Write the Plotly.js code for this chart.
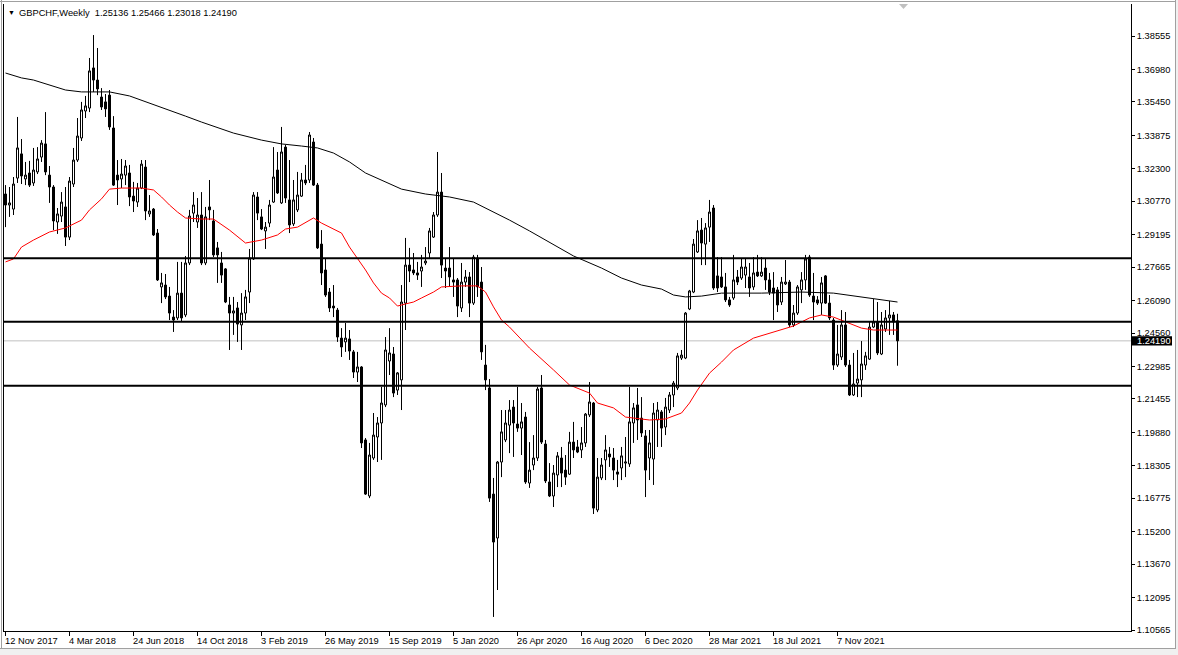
<!DOCTYPE html>
<html><head><meta charset="utf-8">
<script src="https://cdn.plot.ly/plotly-3.0.1.min.js"></script>
<style>html,body{margin:0;padding:0;background:#fff;overflow:hidden}#chart{width:1178px;height:655px}</style>
</head><body><div id="chart"></div>
<script>
const openP = [1.3111,1.3059,1.3040,1.3186,1.3300,1.3182,1.3210,1.3163,1.3215,1.3285,1.3347,1.3200,1.3144,1.2979,1.3007,1.3050,1.2908,1.3158,1.3271,1.3375,1.3502,1.3516,1.3705,1.3648,1.3568,1.3545,1.3577,1.3422,1.3200,1.3182,1.3200,1.3210,1.3101,1.3073,1.3139,1.3238,1.3017,1.3040,1.2927,1.2673,1.2682,1.2630,1.2531,1.2527,1.2644,1.2541,1.2786,1.3021,1.2979,1.3012,1.2786,1.3050,1.2984,1.2857,1.2786,1.2758,1.2588,1.2550,1.2574,1.2494,1.2550,1.2649,1.2805,1.3097,1.3003,1.2937,1.2974,1.3073,1.3224,1.3069,1.3332,1.3083,1.2970,1.3036,1.3101,1.3177,1.3177,1.3356,1.3153,1.2875,1.2753,1.2649,1.2583,1.2564,1.2432,1.2414,1.2428,1.2367,1.2272,1.2296,1.1952,1.1688,1.1867,1.1966,1.2032,1.2117,1.2324,1.2357,1.2187,1.2235,1.2597,1.2776,1.2753,1.2739,1.2748,1.2786,1.2833,1.2908,1.3012,1.3120,1.2762,1.2762,1.2706,1.2706,1.2574,1.2696,1.2720,1.2597,1.2809,1.2696,1.2305,1.2197,1.1697,1.1490,1.1848,1.1952,1.2022,1.2107,1.2027,1.2008,1.2060,1.1749,1.1834,1.1867,1.2197,1.1933,1.1754,1.1688,1.1787,1.1867,1.1810,1.1791,1.1942,1.1919,1.1905,1.1938,1.2070,1.2126,1.1622,1.1773,1.1858,1.1886,1.1867,1.1801,1.1820,1.1843,1.1839,1.2032,1.2117,1.2055,1.1971,1.1867,1.1862,1.2046,1.2084,1.2013,1.2093,1.2164,1.2197,1.2338,1.2338,1.2569,1.2649,1.2838,1.2941,1.2875,1.2955,1.3045,1.2725,1.2720,1.2673,1.2612,1.2621,1.2720,1.2715,1.2729,1.2720,1.2673,1.2743,1.2725,1.2762,1.2706,1.2668,1.2659,1.2602,1.2687,1.2696,1.2494,1.2550,1.2659,1.2706,1.2814,1.2630,1.2612,1.2597,1.2725,1.2597,1.2517,1.2305,1.2343,1.2494,1.2305,1.2164,1.2220,1.2235,1.2305,1.2333,1.2484,1.2508,1.2357,1.2475,1.2527,1.2541,1.25136];
const highP = [1.3153,1.3144,1.3191,1.3474,1.3370,1.3262,1.3267,1.3328,1.3332,1.3365,1.3497,1.3243,1.3153,1.3045,1.3120,1.3144,1.3191,1.3328,1.3469,1.3545,1.3573,1.3752,1.3860,1.3799,1.3610,1.3582,1.3601,1.3478,1.3271,1.3276,1.3271,1.3248,1.3168,1.3163,1.3271,1.3271,1.3106,1.3045,1.2946,1.2739,1.2734,1.2673,1.2564,1.2791,1.2791,1.2819,1.3036,1.3120,1.3092,1.3120,1.3050,1.3177,1.3036,1.2885,1.2838,1.2762,1.2626,1.2626,1.2602,1.2644,1.2659,1.2852,1.3120,1.3120,1.3040,1.2979,1.3083,1.3332,1.3309,1.3427,1.3342,1.3271,1.3177,1.3215,1.3210,1.3248,1.3403,1.3375,1.3163,1.2941,1.2809,1.2668,1.2682,1.2574,1.2479,1.2503,1.2470,1.2376,1.2367,1.2300,1.1961,1.1938,1.2079,1.2060,1.2202,1.2437,1.2479,1.2390,1.2272,1.2682,1.2904,1.2857,1.2833,1.2791,1.2824,1.2861,1.2951,1.3026,1.3309,1.3210,1.2809,1.2861,1.2809,1.2715,1.2786,1.2753,1.2743,1.2824,1.2824,1.2767,1.2400,1.2239,1.1773,1.1853,1.2093,1.2093,1.2140,1.2140,1.2202,1.2126,1.2084,1.1942,1.1975,1.2202,1.2258,1.1952,1.1843,1.1834,1.1895,1.1919,1.1881,1.1990,1.2037,1.1952,1.2013,1.2079,1.2225,1.2131,1.1867,1.1867,1.1975,1.1919,1.1914,1.1858,1.1919,1.1966,1.2202,1.2126,1.2197,1.2154,1.1999,1.1999,1.2126,1.2131,1.2093,1.2150,1.2178,1.2230,1.2362,1.2376,1.2555,1.2659,1.2899,1.2988,1.2998,1.2974,1.3083,1.3059,1.2814,1.2814,1.2739,1.2626,1.2824,1.2753,1.2809,1.2809,1.2786,1.2814,1.2824,1.2814,1.2809,1.2739,1.2743,1.2673,1.2720,1.2800,1.2706,1.2588,1.2682,1.2743,1.2824,1.2824,1.2739,1.2630,1.2720,1.2729,1.2635,1.2527,1.2494,1.2564,1.2555,1.2329,1.2362,1.2376,1.2418,1.2367,1.2508,1.2616,1.2602,1.2555,1.2564,1.2607,1.2555,1.25466];
const lowP = [1.2955,1.3003,1.3012,1.3163,1.3158,1.3153,1.3144,1.3149,1.3205,1.3262,1.3200,1.3069,1.2941,1.2923,1.2979,1.2866,1.2894,1.3144,1.3262,1.3361,1.3469,1.3497,1.3592,1.3577,1.3507,1.3474,1.3413,1.3149,1.3059,1.3139,1.3153,1.3054,1.3026,1.3050,1.3134,1.2988,1.3003,1.2913,1.2701,1.2597,1.2616,1.2517,1.2461,1.2517,1.2508,1.2531,1.2776,1.2979,1.2951,1.2776,1.2776,1.2988,1.2814,1.2692,1.2692,1.2597,1.2376,1.2447,1.2414,1.2376,1.2517,1.2597,1.2800,1.2988,1.2941,1.2852,1.2955,1.3069,1.3111,1.3064,1.3069,1.2927,1.2960,1.3026,1.3097,1.3153,1.3163,1.3149,1.2852,1.2682,1.2626,1.2555,1.2531,1.2414,1.2343,1.2367,1.2329,1.2244,1.2225,1.1914,1.1693,1.1678,1.1858,1.1848,1.1858,1.2107,1.2258,1.2154,1.2164,1.2093,1.2470,1.2696,1.2729,1.2706,1.2673,1.2776,1.2809,1.2904,1.3003,1.2715,1.2668,1.2673,1.2626,1.2531,1.2555,1.2673,1.2531,1.2588,1.2626,1.2329,1.2187,1.1660,1.1118,1.1245,1.1777,1.1942,1.1890,1.1872,1.1990,1.1881,1.1745,1.1726,1.1810,1.1853,1.1933,1.1749,1.1683,1.1636,1.1730,1.1730,1.1740,1.1787,1.1867,1.1890,1.1867,1.1919,1.2060,1.1603,1.1612,1.1763,1.1763,1.1825,1.1763,1.1730,1.1763,1.1777,1.1825,1.1938,1.1952,1.1966,1.1683,1.1763,1.1740,1.1919,1.1919,1.1975,1.2079,1.2107,1.2187,1.2329,1.2333,1.2564,1.2644,1.2833,1.2776,1.2776,1.2885,1.2659,1.2649,1.2668,1.2602,1.2579,1.2612,1.2682,1.2706,1.2668,1.2626,1.2659,1.2720,1.2720,1.2659,1.2635,1.2517,1.2555,1.2588,1.2682,1.2484,1.2484,1.2541,1.2597,1.2659,1.2626,1.2517,1.2588,1.2541,1.2593,1.2517,1.2282,1.2296,1.2329,1.2296,1.2159,1.2159,1.2154,1.2154,1.2282,1.2329,1.2479,1.2352,1.2352,1.2461,1.2447,1.2447,1.23018];
const closeP = [1.3059,1.3069,1.3158,1.3328,1.3196,1.3200,1.3153,1.3224,1.3276,1.3351,1.3215,1.3144,1.2984,1.3017,1.3073,1.2908,1.3172,1.3271,1.3384,1.3507,1.3526,1.3691,1.3648,1.3606,1.3521,1.3512,1.3427,1.3153,1.3177,1.3205,1.3243,1.3097,1.3078,1.3139,1.3252,1.3031,1.3031,1.2918,1.2706,1.2692,1.2626,1.2550,1.2517,1.2644,1.2527,1.2786,1.3007,1.3059,1.3012,1.2786,1.3003,1.3036,1.2824,1.2824,1.2729,1.2602,1.2550,1.2560,1.2498,1.2550,1.2626,1.2809,1.3106,1.3021,1.2946,1.2955,1.3059,1.3191,1.3116,1.3309,1.3092,1.2965,1.3083,1.3106,1.3177,1.3163,1.3389,1.3153,1.2857,1.2739,1.2635,1.2574,1.2574,1.2437,1.2390,1.2432,1.2371,1.2272,1.2296,1.1938,1.1697,1.1881,1.1975,1.2032,1.2126,1.2376,1.2362,1.2173,1.2268,1.2602,1.2776,1.2748,1.2739,1.2729,1.2767,1.2795,1.2937,1.3012,1.3120,1.2776,1.2748,1.2720,1.2696,1.2583,1.2696,1.2720,1.2597,1.2814,1.2673,1.2367,1.2235,1.1678,1.1471,1.1848,1.1990,1.2032,1.2093,1.2032,1.2008,1.2037,1.1754,1.1810,1.1867,1.2192,1.1942,1.1759,1.1688,1.1796,1.1877,1.1796,1.1777,1.1942,1.1905,1.1895,1.1938,1.2074,1.2131,1.1631,1.1777,1.1834,1.1905,1.1872,1.1810,1.1791,1.1877,1.1848,1.2037,1.2103,1.2046,1.1985,1.1810,1.1938,1.2079,1.2093,1.2008,1.2107,1.2164,1.2220,1.2348,1.2352,1.2550,1.2654,1.2875,1.2937,1.2880,1.2951,1.3026,1.2668,1.2668,1.2673,1.2612,1.2588,1.2706,1.2696,1.2767,1.2767,1.2668,1.2739,1.2725,1.2743,1.2706,1.2649,1.2644,1.2588,1.2696,1.2696,1.2494,1.2550,1.2673,1.2706,1.2805,1.2635,1.2602,1.2597,1.2692,1.2597,1.2527,1.2305,1.2357,1.2494,1.2305,1.2164,1.2216,1.2239,1.2310,1.2348,1.2484,1.2508,1.2362,1.2494,1.2527,1.2541,1.2508,1.24190];

const maSlowIdx = [0,4,7,11,15,19,26,31,36,41,45,49,57,64,69,74,78,82,86,90,94,99,105,111,117,121,126,131,136,142,149,154,159,164,167,170,174,179,189,199,207,214,219,223];
const maSlowVal = [1.3681,1.3658,1.3648,1.3625,1.3601,1.3592,1.3592,1.3573,1.3540,1.3507,1.3478,1.3450,1.3398,1.3365,1.3347,1.3337,1.3328,1.3304,1.3262,1.3210,1.3177,1.3134,1.3111,1.3097,1.3073,1.3036,1.2988,1.2937,1.2885,1.2819,1.2762,1.2715,1.2682,1.2663,1.2635,1.2626,1.2630,1.2644,1.2644,1.2649,1.2644,1.2626,1.2612,1.2602];
const maFastIdx = [0,2,4,7,11,13,15,19,21,24,26,29,34,37,39,41,43,45,49,52,56,60,64,68,70,73,77,79,84,86,88,90,92,94,96,98,100,102,104,107,109,114,118,120,122,124,126,131,137,141,146,148,152,155,161,165,169,171,173,176,179,182,187,194,197,201,204,207,210,214,217,223];
const maFastVal = [1.2791,1.2805,1.2861,1.2894,1.2932,1.2941,1.2951,1.2988,1.3036,1.3088,1.3134,1.3139,1.3139,1.3130,1.3097,1.3059,1.3026,1.2998,1.2993,1.2993,1.2941,1.2880,1.2894,1.2918,1.2946,1.2955,1.2998,1.2974,1.2927,1.2861,1.2809,1.2753,1.2692,1.2644,1.2621,1.2583,1.2593,1.2602,1.2621,1.2649,1.2673,1.2678,1.2678,1.2649,1.2579,1.2517,1.2484,1.2385,1.2282,1.2211,1.2173,1.2126,1.2103,1.2060,1.2046,1.2051,1.2079,1.2126,1.2187,1.2267,1.2319,1.2376,1.2432,1.2470,1.2489,1.2527,1.2541,1.2531,1.2508,1.2479,1.2470,1.2470];

const levels = [1.2808, 1.2509, 1.2208];
const lastPrice = 1.24190;
const priceTicks = [1.38555,1.36980,1.35450,1.33875,1.32300,1.30770,1.29195,1.27665,1.26090,1.24560,1.22985,1.21455,1.19880,1.18305,1.16775,1.15200,1.13670,1.12095,1.10565];
const dateLabels = ["12 Nov 2017","4 Mar 2018","24 Jun 2018","14 Oct 2018","3 Feb 2019","26 May 2019","15 Sep 2019","5 Jan 2020","26 Apr 2020","16 Aug 2020","6 Dec 2020","28 Mar 2021","18 Jul 2021","7 Nov 2021"];
const dateLabelIdx = [0,16,32,48,64,80,96,112,128,144,160,176,192,208];
const symbolText = "GBPCHF,Weekly";
const ohlcText = "1.25136 1.25466 1.23018 1.24190";

// geometry (pixels)
const W = 1178, H = 655, PL = 4, PR = 1131, PT = 4, PB = 631;
const pw = PR - PL, ph = PB - PT;
const fx = p => (p - PL) / pw;
const fy = p => (PB - p) / ph;
const FONT = 'Liberation Sans, Arial, sans-serif';
const FS = 9.3;

const idx = openP.map((_, i) => i);

const traces = [
  {
    type: 'candlestick', x: idx, open: openP, high: highP, low: lowP, close: closeP,
    increasing: {line: {color: '#000000', width: 1}, fillcolor: '#ffffff'},
    decreasing: {line: {color: '#000000', width: 1}, fillcolor: '#000000'},
    whiskerwidth: 0, hoverinfo: 'skip', showlegend: false
  },
  {type: 'scatter', mode: 'lines', x: maSlowIdx, y: maSlowVal, line: {color: '#000000', width: 1}, hoverinfo: 'skip', showlegend: false},
  {type: 'scatter', mode: 'lines', x: maFastIdx, y: maFastVal, line: {color: '#ff0000', width: 1}, hoverinfo: 'skip', showlegend: false}
];

const shapes = [];
// current price line
shapes.push({type: 'line', xref: 'paper', yref: 'y', x0: 0, x1: 1, y0: lastPrice, y1: lastPrice, line: {color: '#c0c0c0', width: 1}, layer: 'below'});
levels.forEach(v => shapes.push({type: 'line', xref: 'paper', yref: 'y', x0: 0, x1: 1, y0: v, y1: v, line: {color: '#000000', width: 2}}));
// price box on axis
shapes.push({type: 'rect', xref: 'paper', yref: 'paper', x0: fx(1131.5), x1: fx(1172), y0: fy(345.5), y1: fy(336.3), fillcolor: '#000000', line: {width: 0}});
// window frame
shapes.push({type: 'rect', xref: 'paper', yref: 'paper', x0: fx(0), x1: fx(W), y0: fy(H), y1: fy(648.5), fillcolor: '#f0f0f0', line: {width: 0}});
shapes.push({type: 'rect', xref: 'paper', yref: 'paper', x0: fx(1175), x1: fx(W), y0: fy(H), y1: fy(0), fillcolor: '#f0f0f0', line: {width: 0}});
shapes.push({type: 'line', xref: 'paper', yref: 'paper', x0: fx(0), x1: fx(1175.5), y0: fy(1.5), y1: fy(1.5), line: {color: '#a0a0a0', width: 1}});
shapes.push({type: 'line', xref: 'paper', yref: 'paper', x0: fx(1.5), x1: fx(1.5), y0: fy(0), y1: fy(649), line: {color: '#a0a0a0', width: 1}});
shapes.push({type: 'line', xref: 'paper', yref: 'paper', x0: fx(1175.5), x1: fx(1175.5), y0: fy(0), y1: fy(649), line: {color: '#a0a0a0', width: 1}});
shapes.push({type: 'line', xref: 'paper', yref: 'paper', x0: fx(0), x1: fx(1176), y0: fy(648.5), y1: fy(648.5), line: {color: '#a0a0a0', width: 1}});
// chart shift marker
shapes.push({type: 'path', xref: 'paper', yref: 'paper', path: 'M ' + fx(899) + ',' + fy(4) + ' L ' + fx(908) + ',' + fy(4) + ' L ' + fx(903.5) + ',' + fy(9) + ' Z', fillcolor: '#c0c0c0', line: {width: 0}});

const annotations = [];
annotations.push({xref: 'paper', yref: 'paper', x: fx(8), y: fy(13), xanchor: 'left', yanchor: 'middle', text: '\u25BC', showarrow: false, font: {family: FONT, size: 7, color: '#000'}, borderpad: 0, borderwidth: 0});
annotations.push({xref: 'paper', yref: 'paper', x: fx(19), y: fy(13), xanchor: 'left', yanchor: 'middle', text: symbolText + '\u00a0\u00a0' + ohlcText, showarrow: false, font: {family: FONT, size: FS, color: '#000'}, borderpad: 0, borderwidth: 0});
dateLabels.forEach((t, k) => annotations.push({xref: 'x', yref: 'paper', x: dateLabelIdx[k] - 0.125, y: fy(640.5), xanchor: 'left', yanchor: 'middle', text: t, showarrow: false, font: {family: FONT, size: FS, color: '#000'}, borderpad: 0, borderwidth: 0}));
annotations.push({xref: 'paper', yref: 'paper', x: fx(1136.5), y: fy(341), xanchor: 'left', yanchor: 'middle', text: lastPrice.toFixed(5), showarrow: false, font: {family: FONT, size: FS, color: '#ffffff'}, borderpad: 0, borderwidth: 0});

const layout = {
  width: W, height: H,
  margin: {l: PL, r: W - PR, t: PT, b: H - PB, pad: 0},
  paper_bgcolor: '#ffffff', plot_bgcolor: '#ffffff',
  showlegend: false, boxgap: 0.5, boxgroupgap: 0,
  xaxis: {
    range: [-0.375, 281.375], showgrid: false, zeroline: false,
    showline: true, linecolor: '#000000', linewidth: 1, mirror: false,
    ticks: 'outside', ticklen: 4, tickwidth: 1, tickcolor: '#000000',
    tickmode: 'array', tickvals: dateLabelIdx, showticklabels: false,
    rangeslider: {visible: false}, fixedrange: true
  },
  yaxis: {
    range: [1.10518, 1.40063], side: 'right', showgrid: false, zeroline: false,
    showline: true, linecolor: '#000000', linewidth: 1, mirror: true,
    ticks: 'outside', ticklen: 3, tickwidth: 1, tickcolor: '#000000',
    tickmode: 'array', tickvals: priceTicks, ticktext: priceTicks.map(v => v.toFixed(5)),
    tickfont: {family: FONT, size: FS, color: '#000000'}, fixedrange: true
  },
  shapes: shapes, annotations: annotations
};

Plotly.newPlot('chart', traces, layout, {staticPlot: true, displayModeBar: false});
</script>
</body></html>
